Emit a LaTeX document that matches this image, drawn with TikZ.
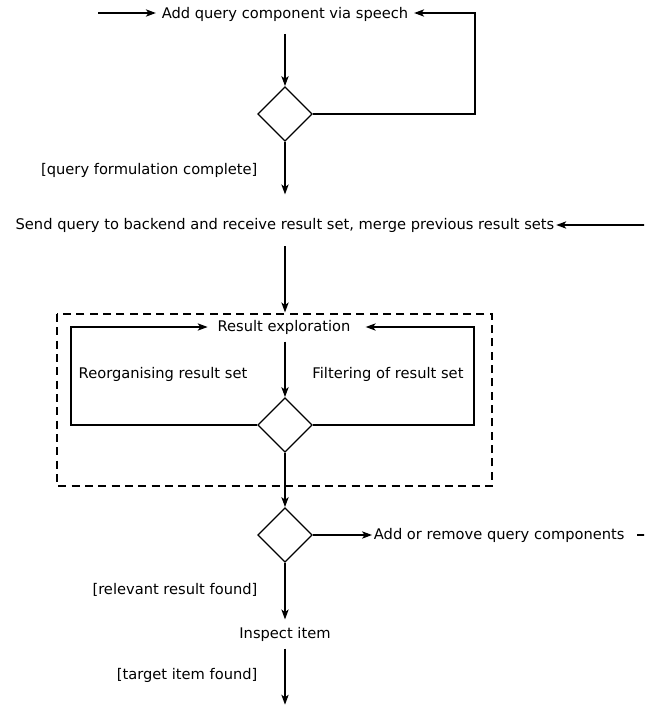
\documentclass[tikz,border=0pt]{standalone}
\usepackage{fontspec}
\setmainfont{DejaVu Sans}
\usetikzlibrary{shapes.geometric}
\usetikzlibrary{arrows.meta}

\begin{document}
\begin{tikzpicture}[x=0.75pt,y=-0.75pt,line width=0.9pt,
                    every node/.style={font=\fontsize{11}{13}\selectfont},
                    act/.style={inner xsep=4pt,inner ysep=0pt,minimum height=21pt},
                    guard/.style={anchor=east,inner sep=0pt},
                    decision/.style={diamond,draw,inner sep=0pt,minimum width=41pt,minimum height=41pt},
                    arr/.style={-{Stealth[length=7.5pt,width=5.5pt,inset=2pt]}},
                    frame/.style={dashed,dash pattern=on 6pt off 4pt}]
                    \useasboundingbox (0,0) rectangle (644,706);
                    \clip (0,0) rectangle (644,706);

                    \node[act] (speech) at(285,14) {Add query component via speech};
                    \node[decision] (d1) at(285,114) {};
                    \node[guard] (complete) at(258,170) {[query formulation complete]};
                    \node[act,inner xsep=1pt] (send) at(285,225) {Send query to backend and receive result set, merge previous result sets};

                    \draw[frame] (57,314) rectangle (492,486);
                    \node[act,inner xsep=0pt] (explore) at(284,327) {Result exploration};
                    \node[act] (reorg) at(163,374) {Reorganising result set};
                    \node[act] (filter) at(388,374) {Filtering of result set};
                    \node[decision] (d2) at(285,425) {};

                    \node[decision] (d3) at(285,535) {};
                    \node[act,anchor=west,inner xsep=1pt] (modify) at(372,535) {Add or remove query components};
                    \node[guard] (relevant) at(258,590) {[relevant result found]};
                    \node[act] (inspect) at(285,634) {Inspect item};
                    \node[guard] (target) at(258,675) {[target item found]};

                    \coordinate (start) at(98,13);
                    \coordinate (loopA) at(475,13);
                    \coordinate (loopL) at(71,327);
                    \coordinate (loopR) at(474,327);
                    \coordinate (loopB) at(670,535);
                    \coordinate (finish) at(285,706);

                    \draw[arr] (start) -- (start -| speech.west);
                    \draw[arr,shorten <=4pt] (speech) -- (d1);
                    \draw[arr] (d1.east) -| (loopA) -- (loopA -| speech.east);
                    \draw[arr,shorten >=12pt] (d1.south) -- (d1.south |- send.north);
                    \draw[arr,shorten <=5pt] (d1.south |- send.south) -- (explore.north -| d1.south);
                    \draw[arr,shorten >=7pt] (d2.west) -| (loopL) -- (explore);
                    \draw[arr,shorten >=11pt] (d2.east) -| (loopR) -- (explore);
                    \draw[arr] (explore.south -| d2.north) -- (d2.north);
                    \draw[arr] (d2) -- (d3);
                    \draw[arr] (d3) -- (modify);
                    \draw[arr,shorten <=8pt] (modify) -- (loopB) |- (send);
                    \draw[arr] (d3) -- (inspect);
                    \draw[arr,shorten >=1pt] (inspect) -- (finish);
                \end{tikzpicture}
\end{document}
